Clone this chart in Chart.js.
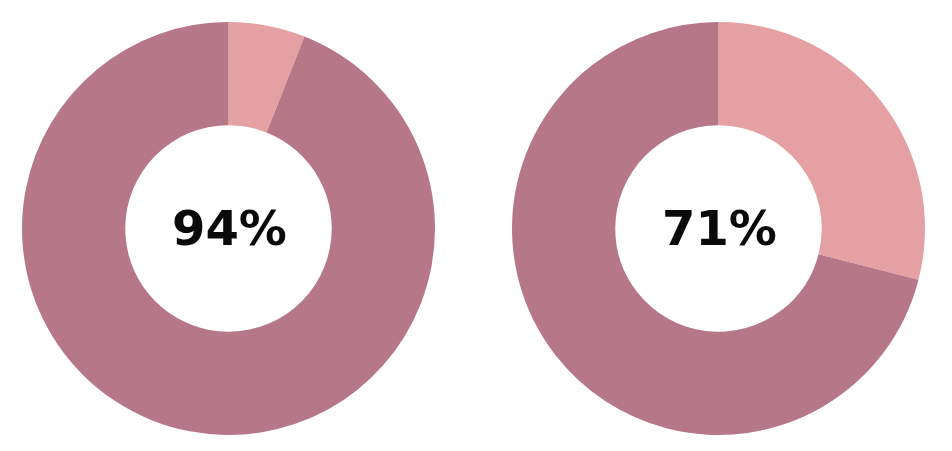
<html>
<head>
    <script src="https://cdn.jsdelivr.net/npm/chart.js"></script>
    <style>
        body { margin: 0; background: #fff; width: 952px; height: 451px; position: relative; overflow: hidden; }
        .box { position: absolute; top: 22px; width: 413px; height: 413px; }
    </style>
</head>
<body>
    <div class="box" style="left: 22px;"><canvas id="chart1"></canvas></div>
    <div class="box" style="left: 512px;"><canvas id="chart2"></canvas></div>
    <script type="text/javascript">
        const labels = ['その他', '割合'];
        const values1 = [6, 94];
        const values2 = [29, 71];
        const colors = ['rgb(228, 160, 162)', 'rgb(182, 120, 137)'];

        const centerText = {
            id: 'centerText',
            afterDraw(chart) {
                var ctx = chart.ctx;
                var a = chart.chartArea;
                var text = chart.data.datasets[0].data[1] + '%';
                ctx.save();
                ctx.font = 'bold 48px "DejaVu Sans"';
                ctx.fillStyle = '#0a0a0a';
                ctx.textAlign = 'center';
                ctx.textBaseline = 'middle';
                ctx.fillText(text, (a.left + a.right) / 2 + 1, (a.top + a.bottom) / 2 + 4);
                ctx.restore();
            }
        };

        function makeChart(id, values){
            return new Chart(document.getElementById(id), {
                type: 'doughnut',
                data: {
                    labels: labels,
                    datasets: [{
                        data: values,
                        backgroundColor: colors,
                        borderWidth: 0
                    }]
                },
                options: {
                    responsive: true,
                    maintainAspectRatio: false,
                    animation: false,
                    cutout: '50%',
                    layout: { padding: 0 },
                    plugins: {
                        legend: { display: false },
                        tooltip: { enabled: false }
                    }
                },
                plugins: [centerText]
            });
        }

        makeChart('chart1', values1);
        makeChart('chart2', values2);
    </script>
</body>
</html>
